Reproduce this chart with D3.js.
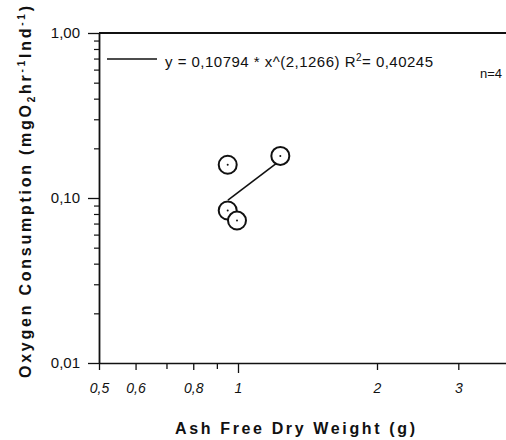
<!DOCTYPE html>
<html>
<head>
<meta charset="utf-8">
<script src="https://cdn.jsdelivr.net/npm/d3@7"></script>
<style>
  body { margin: 0; background: #fff; }
  svg { display: block; overflow: hidden; }
  .axis text { font-family: "Liberation Sans", Arial, sans-serif; fill: #111; }
  .axis path, .axis line { stroke: #111; }
</style>
</head>
<body>
<div id="root"></div>
<script>
// data
const weight = [0.95, 1.235, 0.95, 0.995];          // Ash free dry weight (g)
const oxygen = [0.159, 0.180, 0.084, 0.073];        // mgO2 hr-1 Ind-1
const fitWeight = [0.951, 1.235];                   // ends of the fitted power line
const fitOxygen = [0.0972, 0.169];
const xMajor = [0.5, 0.6, 0.8, 1, 2, 3];
const xMinor = [0.7, 0.9];
const xTickLabels = ["0,5", "0,6", "0,8", "1", "2", "3"];
const yMajor = [0.01, 0.1, 1];
const yTickLabels = ["0,01", "0,10", "1,00"];
const yMinor = [0.02, 0.03, 0.04, 0.05, 0.06, 0.07, 0.08, 0.09,
                0.2, 0.3, 0.4, 0.5, 0.6, 0.7, 0.8, 0.9];

const width = 506, height = 440;
const font = "'Liberation Sans', Arial, sans-serif";

const svg = d3.select("#root").append("svg")
    .attr("width", width)
    .attr("height", height);

const x = d3.scaleLog().domain([0.5, 4]).range([99, 516]);
const y = d3.scaleLog().domain([0.01, 1]).range([363, 33]);

// x axis
const xAxis = svg.append("g")
    .attr("class", "axis")
    .attr("transform", `translate(0,${y(0.01)})`)
    .call(d3.axisBottom(x)
        .tickValues(xMajor)
        .tickSize(7)
        .tickSizeOuter(0)
        .tickFormat((d, i) => xTickLabels[i]));
xAxis.selectAll("text")
    .attr("dy", 0)
    .attr("y", 30)
    .style("font-size", "14px")
    .style("font-style", "italic");
xAxis.select(".domain").attr("stroke-width", 1.6);
xAxis.selectAll(".tick line").attr("stroke-width", 1.3)
    .filter(d => d === 1).attr("y2", 10);

svg.append("g")
    .attr("class", "axis")
    .attr("transform", `translate(0,${y(0.01)})`)
    .call(d3.axisBottom(x).tickValues(xMinor).tickSize(6).tickSizeOuter(0).tickFormat(""))
    .call(g => g.select(".domain").remove())
    .selectAll(".tick line").attr("stroke-width", 1.3);

// y axis
const yAxis = svg.append("g")
    .attr("class", "axis")
    .attr("transform", `translate(${x(0.5)},0)`)
    .call(d3.axisLeft(y)
        .tickValues(yMajor)
        .tickSize(11)
        .tickSizeOuter(0)
        .tickFormat((d, i) => yTickLabels[i]));
yAxis.selectAll("text")
    .attr("x", -19)
    .style("font-size", "15px");
yAxis.select(".domain").attr("stroke-width", 1.8);
yAxis.selectAll(".tick line").attr("stroke-width", 1.3);

svg.append("g")
    .attr("class", "axis")
    .attr("transform", `translate(${x(0.5)},0)`)
    .call(d3.axisLeft(y).tickValues(yMinor).tickSize(5).tickSizeOuter(0).tickFormat(""))
    .call(g => g.select(".domain").remove())
    .selectAll(".tick line").attr("stroke-width", 1.2);

// top frame
svg.append("line")
    .attr("x1", x(0.5)).attr("x2", width + 20)
    .attr("y1", y(1)).attr("y2", y(1))
    .attr("stroke", "#111")
    .attr("stroke-width", 2);

// fitted line
const fit = d3.line()
    .x((d, i) => x(fitWeight[i]))
    .y(d => y(d));
svg.append("path")
    .attr("d", fit(fitOxygen))
    .attr("fill", "none")
    .attr("stroke", "#111")
    .attr("stroke-width", 1.6);

// points
const pts = svg.append("g")
    .selectAll("g")
    .data(weight)
    .enter().append("g")
    .attr("transform", (d, i) => `translate(${x(d)},${y(oxygen[i])})`);
pts.append("circle")
    .attr("r", 9)
    .attr("fill", "#fff")
    .attr("stroke", "#111")
    .attr("stroke-width", 2);
pts.append("circle")
    .attr("r", 1)
    .attr("fill", "#111");

// legend
svg.append("line")
    .attr("x1", 107).attr("x2", 157)
    .attr("y1", 59).attr("y2", 59)
    .attr("stroke", "#111")
    .attr("stroke-width", 1.3);

const legendText = svg.append("text")
    .attr("x", 165)
    .attr("y", 67)
    .attr("textLength", 268)
    .attr("lengthAdjust", "spacing")
    .style("font-family", font)
    .style("font-size", "15px")
    .attr("fill", "#111");
legendText.append("tspan").text("y = 0,10794 * x^(2,1266) R");
legendText.append("tspan").attr("dy", -6).style("font-size", "10px").text("2");
legendText.append("tspan").attr("dy", 6).text("= 0,40245");

svg.append("text")
    .attr("x", 480)
    .attr("y", 78)
    .style("font-family", font)
    .style("font-size", "13px")
    .attr("fill", "#111")
    .text("n=4");

// axis titles
svg.append("text")
    .attr("x", 295)
    .attr("y", 434)
    .attr("text-anchor", "middle")
    .attr("textLength", 240)
    .attr("lengthAdjust", "spacing")
    .style("font-family", font)
    .style("font-size", "16px")
    .style("font-weight", "bold")
    .attr("fill", "#111")
    .text("Ash Free Dry Weight (g)");

const yTitle = svg.append("text")
    .attr("transform", "translate(31,192) rotate(-90)")
    .attr("text-anchor", "middle")
    .attr("textLength", 372)
    .attr("lengthAdjust", "spacing")
    .style("font-family", font)
    .style("font-size", "16px")
    .style("font-weight", "bold")
    .attr("fill", "#111");
yTitle.append("tspan").text("Oxygen Consumption (mgO");
yTitle.append("tspan").attr("dy", 4).style("font-size", "10px").text("2");
yTitle.append("tspan").attr("dy", -4).text("hr");
yTitle.append("tspan").attr("dy", -6).style("font-size", "10px").text("-1");
yTitle.append("tspan").attr("dy", 6).text("Ind");
yTitle.append("tspan").attr("dy", -6).style("font-size", "10px").text("-1");
yTitle.append("tspan").attr("dy", 6).text(")");
</script>
</body>
</html>
